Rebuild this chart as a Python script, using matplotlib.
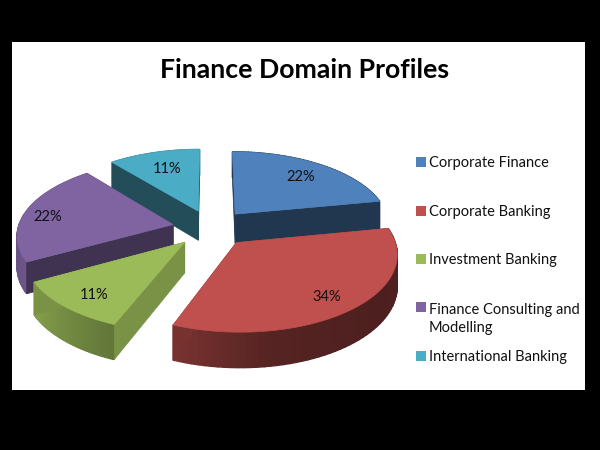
import numpy as np
import matplotlib
matplotlib.use("Agg")
import matplotlib.pyplot as plt
from matplotlib.patches import Polygon, Rectangle

title = "Finance Domain Profiles"
categories = ["Corporate Finance", "Corporate Banking", "Investment Banking",
              "Finance Consulting and\nModelling", "International Banking"]
values = [22, 34, 11, 22, 11]
labels = ["22%", "34%", "11%", "22%", "11%"]
colors = ["#4f81bd", "#c0504d", "#9bbb59", "#8064a2", "#4bacc6"]

# layout / style
legend_y = [163, 212, 260, 319, 357]
label_r = [0.75, 0.80, 0.78, 0.85, 0.68]
label_dy = [1, 2, 4, 4, -1]
cut_shade = [(.42, .42), (.62, .62), (.78, .78), (.50, .50), (.45, .45)]
draw_order = [4, 0, 3, 2, 1]
CX, CY, RX, RY, K, EXPL, DEPTH = 211, 228, 155, 73.8, 0.13, 0.25, 30

plt.rcParams['font.family'] = ['Lato', 'DejaVu Sans']
fig = plt.figure(figsize=(6, 4.5), dpi=100, facecolor="black")
ax = fig.add_axes([0, 0, 1, 1])
ax.set_xlim(0, 600); ax.set_ylim(450, 0); ax.axis("off")
ax.add_patch(Rectangle((12, 42), 573, 348, fc="white", ec="none", zorder=0))


def project(x, y, z=0.0):
    w = 1 / (1 + K * y)
    return CX + RX * x * w, CY - RY * y * w + z * w


def shade(c, f):
    return tuple(min(1, v * f) for v in matplotlib.colors.to_rgb(c))


def arc_shade(deg):
    return np.interp(deg, [60, 130, 170, 200, 240, 290], [.42, .40, .44, .62, .85, .78])


fr = np.array(values) / sum(values)
edges = np.concatenate([[0], np.cumsum(fr) * 360])
z = 1
for i in draw_order:
    a0, a1 = edges[i], edges[i + 1]
    mid = np.radians((a0 + a1) / 2)
    ex, ey = EXPL * np.sin(mid), EXPL * np.cos(mid)
    th = np.linspace(a0, a1, 60)
    ux = ex + np.sin(np.radians(th))
    uy = ey + np.cos(np.radians(th))
    c = colors[i]
    # outer wall
    for j in range(len(th) - 1):
        q = [project(ux[j], uy[j]), project(ux[j + 1], uy[j + 1]),
             project(ux[j + 1], uy[j + 1], DEPTH), project(ux[j], uy[j], DEPTH)]
        col = shade(c, arc_shade((th[j] + th[j + 1]) / 2))
        ax.add_patch(Polygon(q, fc=col, ec=col, lw=1.0, zorder=z))
    z += 1
    # cut faces
    for k, (ax_, ay_) in enumerate([(ux[0], uy[0]), (ux[-1], uy[-1])]):
        q = [project(ex, ey), project(ax_, ay_), project(ax_, ay_, DEPTH), project(ex, ey, DEPTH)]
        col = shade(c, cut_shade[i][k])
        ax.add_patch(Polygon(q, fc=col, ec=col, lw=0.5, zorder=z))
    z += 1
    # top
    pts = [project(ex, ey)] + [project(a, b) for a, b in zip(ux, uy)]
    ax.add_patch(Polygon(pts, fc=c, ec=c, lw=0.5, zorder=z))
    z += 1
    # label
    lx, ly = project(ex + label_r[i] * np.sin(mid), ey + label_r[i] * np.cos(mid))
    ax.text(lx, ly + label_dy[i], labels[i], ha="center", va="center", fontsize=10.5, color="#111111", zorder=100)

ax.text(305, 70, title, ha="center", va="center", fontsize=19.2, fontweight="bold", color="black", zorder=100)

for name, c, y in zip(categories, colors, legend_y):
    sy = y - 11 if "\n" in name else y
    ax.add_patch(Rectangle((416, sy - 6), 10, 10, fc=c, ec="none", zorder=100))
    ax.text(429, y, name, ha="left", va="center", fontsize=10.5, color="#111111",
            linespacing=1.45, zorder=100)

fig.savefig("out.png", dpi=100, facecolor="black")
